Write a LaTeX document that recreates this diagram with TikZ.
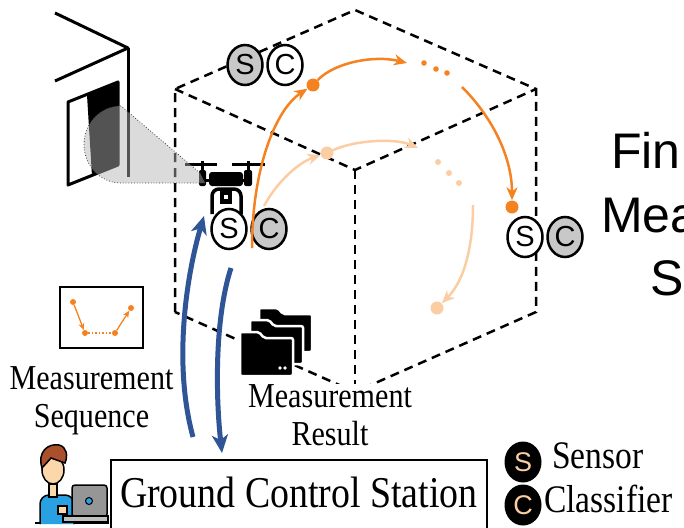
\documentclass[tikz,border=0pt]{standalone}
\usepackage{fontspec}
\setmainfont[FakeStretch=0.86]{Liberation Serif}
\newfontfamily\arialfont{Liberation Sans}
\usetikzlibrary{arrows.meta,shapes.geometric}

\definecolor{darkorange}{RGB}{245,130,32}
\definecolor{peach}{RGB}{251,205,163}
\definecolor{linkblue}{RGB}{47,85,151}
\definecolor{scgray}{RGB}{200,200,200}
\definecolor{beamgray}{RGB}{178,178,178}
\definecolor{hair}{RGB}{170,80,45}
\definecolor{skin}{RGB}{252,215,170}
\definecolor{shirt}{RGB}{40,160,225}
\definecolor{laptop}{RGB}{150,150,150}

\tikzset{
  sc/.style={ellipse, draw, line width=2.5pt, minimum width=35pt, minimum height=40pt,
    inner sep=0pt, font=\arialfont\fontsize{29}{29}\selectfont},
  scgrey/.style={sc, fill=scgray},
  scwhite/.style={sc, fill=white},
  legendsc/.style={ellipse, fill=black, text=peach, minimum width=37pt, minimum height=41pt,
    inner sep=0pt, font=\arialfont\fontsize{27}{27}\selectfont},
  cube/.style={line width=2.5pt, dash pattern=on 9pt off 6pt},
  wall/.style={line width=3pt, line join=round},
  hop/.style={line width=2.5pt, -{Stealth[length=13pt,width=11pt,inset=4pt]}},
  waypoint/.style={circle, inner sep=0pt, minimum size=13pt},
  link/.style={linkblue, line width=5pt, -{Stealth[length=18pt,width=16pt,inset=5pt]}},
  seqdot/.style={circle, fill=darkorange, inner sep=0pt, minimum size=6pt},
  seqarrow/.style={darkorange, line width=1.3pt, -{Stealth[length=7pt,width=6pt]}},
  textlabel/.style={font=\fontsize{35}{38}\selectfont, align=center, inner sep=0pt, anchor=base},
  folder/.pic={
    \filldraw[fill=black, draw=white, line width=2.5pt, rounded corners=2pt]
      (0,0) -- (19,0) -- (24,6) -- (53,6) -- (53,44) -- (0,44) -- cycle;
  },
}

\begin{document}
\begin{tikzpicture}[x=1pt,y=-1pt]
\useasboundingbox (0,0) rectangle (684,527);
\clip (0,0) rectangle (684,527);

% flight volume
\draw[cube] (175,312) -- (175,89) -- (355,10) -- (536,89) -- (536,312) -- (355,392) -- cycle;
\draw[cube] (175,89) -- (355,170) -- (536,89);
\draw[cube] (355,170) -- (355,392);

% wall with the door
\draw[wall] (55,13) -- (128,48) -- (55,81);
\draw[wall] (128,48) -- (128,177);
\fill (87,95) -- (118,82) -- (118,165) -- (92,176) -- cycle;
\draw[wall] (68,102) -- (118,82) -- (118,165) -- (68,185) -- cycle;

% drone
\begin{scope}[line width=3pt]
  \draw (185,164) -- (217,164) (232,164) -- (265,164);
  \draw (202,161) -- (202,174) (248,161) -- (248,174);
  \fill[rounded corners=2pt] (199,170) rectangle (206,186);
  \fill[rounded corners=2pt] (244,170) rectangle (252,186);
  \fill[rounded corners=3pt] (209,172) rectangle (243,186);
  \draw (205,180) -- (245,180);
  \draw[rounded corners=7pt, line width=3.5pt] (212,214) -- (212,189) -- (241,189) -- (241,214);
  \fill (220,189) rectangle (232,204);
  \fill[white] (224,195) rectangle (228,199);
\end{scope}

% camera beam on the door
\fill[beamgray, opacity=.47] (200,173) -- (121,106)
  arc[start angle=270, end angle=90, x radius=37, y radius=38.5] -- (205,183) -- cycle;
\draw[dotted, line width=.8pt, black!75] (200,173) -- (121,106)
  arc[start angle=270, end angle=90, x radius=37, y radius=38.5] -- (205,183);

% sensor / classifier pairs
\node[scgrey] (s1) at (245,65) {S};
\node[scwhite] (c1) at (285,65) {C};
\node[scwhite] (s0) at (229,229) {S};
\node[scgrey] (c0) at (269,229) {C};
\node[scwhite] (s2) at (525,237) {S};
\node[scgrey] (c2) at (565,237) {C};

% chosen trajectory
\node[waypoint, fill=darkorange] (o1) at (313,85) {};
\node[waypoint, fill=darkorange] (o2) at (512,207) {};
\coordinate (o0) at (252,248);
\coordinate (o1b) at (407,63);
\coordinate (o2a) at (462,87);
\draw[hop, darkorange] (o0) .. controls (252,170) and (275,110) .. (o1);
\draw[hop, darkorange] (o1) .. controls (335,62) and (375,55) .. (o1b);
\foreach \x/\y in {424/63, 436/69, 447/73}
  \fill[darkorange] (\x,\y) circle (2.8);
\draw[hop, darkorange] (o2a) .. controls (495,120) and (512,160) .. (o2);

% alternative trajectory
\node[waypoint, fill=peach] (p1) at (327,153) {};
\node[waypoint, fill=peach] (p2) at (437,308) {};
\coordinate (p0) at (264,206);
\coordinate (p1b) at (418,148);
\coordinate (p2a) at (473,205);
\draw[hop, peach] (p0) .. controls (278,180) and (300,162) .. (p1);
\draw[hop, peach] (p1) .. controls (355,140) and (395,138) .. (p1b);
\foreach \x/\y in {438/162, 449/173, 459/183}
  \fill[peach] (\x,\y) circle (3);
\draw[hop, peach] (p2a) .. controls (473,245) and (465,280) .. (p2);

% uplink and downlink
\coordinate (up0) at (193,437);
\coordinate (up1) at (204,216);
\draw[link] (up0) .. controls (172,360) and (188,270) .. (up1);
\coordinate (dn0) at (231,268);
\coordinate (dn1) at (222,453);
\draw[link] (dn0) .. controls (214,320) and (216,400) .. (dn1);

% measurement sequence icon
\node[draw, line width=1.5pt, minimum width=83pt, minimum height=61pt] (seqbox) at (101.5,317.5) {};
\node[seqdot] (q1) at (73,302) {};
\node[seqdot] (q2) at (85,333) {};
\node[seqdot] (q3) at (115,333) {};
\node[seqdot] (q4) at (131,308) {};
\draw[seqarrow] (q1) -- (q2);
\draw[darkorange, line width=1.5pt, dotted] (q2) -- (q3);
\draw[seqarrow] (q3) -- (q4);

% result folders
\pic at (259,308) {folder};
\pic at (250,320) {folder};
\pic at (240,332) {folder};
\fill[white] (280,368) circle (1.8) (285,368) circle (1.8);

% operator at the laptop
\draw[line width=1.5pt] (35,523) -- (109,523);
\filldraw[fill=shirt, line width=1.5pt, rounded corners=9pt] (40,524) -- (40,495) -- (74,495) -- (74,524);
\filldraw[fill=skin, line width=1.5pt] (49,484) rectangle (57,497);
\filldraw[fill=skin, line width=1.5pt] (53,470) ellipse [x radius=11, y radius=14];
\filldraw[fill=hair, line width=1.5pt] (42,468) .. controls (37,452) and (48,443) .. (59,445)
  .. controls (67,447) and (68,456) .. (65,463) -- (51,458) -- cycle;
\filldraw[fill=laptop, line width=1.5pt, rounded corners=3pt] (72,485) rectangle (107,517);
\filldraw[fill=shirt, line width=1pt] (89,501) circle (3.5);
\filldraw[fill=skin, line width=1.2pt] (58,506) rectangle (67,514);
\filldraw[fill=laptop!60, line width=1.5pt] (63,516) rectangle (108,522);

% texts (base is the last line)
\node[textlabel] (seqtext) at (91.5,427) {Measurement\\Sequence};
\node[textlabel, fill=white] (restext) at (330,445) {Measurement\\Result};
\node[draw, line width=1.5pt, minimum width=376pt, inner sep=0pt, text height=48pt, text depth=27pt,
  anchor=north west, font=\fontsize{44}{44}\selectfont] (gcs) at (110,459) {Ground Control Station};

% legend
\node[legendsc] (ls) at (523,462) {S};
\node[legendsc] (lc) at (523,505) {C};
\node[anchor=base west, inner sep=0pt, font=\fontsize{39}{39}\selectfont] (sensor) at (552,468) {Sensor};
\node[anchor=base west, inner sep=0pt, font=\fontsize{39}{39}\selectfont] (classifier) at (544,512) {Classifier};

% caption on the right
\node[anchor=base west, inner sep=0pt, font=\arialfont\fontsize{50}{50}\selectfont] (fin) at (611,168) {Fin};
\node[anchor=base west, inner sep=0pt, font=\arialfont\fontsize{50}{50}\selectfont] (mea) at (601,232) {Mea};
\node[anchor=base west, inner sep=0pt, font=\arialfont\fontsize{50}{50}\selectfont] (seq) at (650,295) {S};
\end{tikzpicture}
\end{document}
